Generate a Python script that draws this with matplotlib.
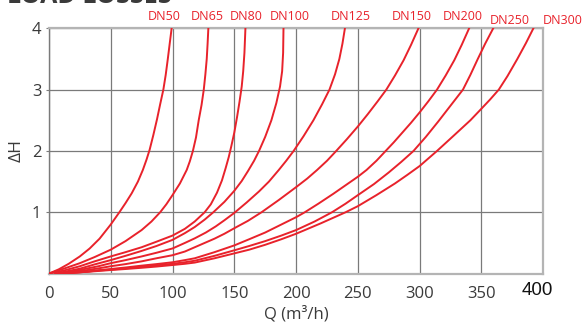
import matplotlib
matplotlib.use("Agg")
import matplotlib.pyplot as plt

# head loss curves: Q in m3/h, dH
sizes = ["DN50", "DN65", "DN80", "DN100", "DN125", "DN150", "DN200", "DN250", "DN300"]

q_dn50 = [0, 8, 16, 25, 33, 41, 50, 57, 62, 67, 72, 76, 79, 81.5, 84.5, 87.5, 90, 92.6, 94.5, 96.2, 97.8, 99.3]
h_dn50 = [0, 0.07, 0.16, 0.28, 0.41, 0.57, 0.8, 1.0, 1.15, 1.31, 1.5, 1.69, 1.86, 2.02, 2.26, 2.52, 2.76, 3.0, 3.24, 3.5, 3.76, 4.0]

q_dn65 = [0, 12, 25, 37, 50, 62, 75, 83, 90, 95, 100, 106, 111.5, 114, 116.5, 119, 121.2, 123.5, 125.3, 126.6, 127.7, 128.4, 129]
h_dn65 = [0, 0.08, 0.17, 0.27, 0.39, 0.53, 0.71, 0.85, 1.0, 1.13, 1.28, 1.47, 1.69, 1.83, 2.0, 2.22, 2.5, 2.75, 3.0, 3.25, 3.5, 3.75, 4.0]

q_dn80 = [0, 12, 25, 37, 50, 62, 75, 87, 100, 110, 118, 126, 131, 136, 140, 143, 145.5, 147.5, 150, 152.2, 154.2, 156, 157.2, 158.2, 159]
h_dn80 = [0, 0.05, 0.12, 0.2, 0.28, 0.35, 0.43, 0.52, 0.62, 0.73, 0.85, 1.0, 1.13, 1.32, 1.52, 1.72, 1.9, 2.07, 2.3, 2.55, 2.8, 3.05, 3.3, 3.6, 4.0]

q_dn100 = [5, 15, 25, 37, 50, 62, 75, 87, 100, 110, 118, 126, 133, 142, 150, 156, 161, 166, 170, 175, 180, 184, 187, 188.7, 189.5, 189.8]
h_dn100 = [0, 0.04, 0.08, 0.15, 0.22, 0.29, 0.37, 0.45, 0.55, 0.66, 0.76, 0.88, 1.0, 1.17, 1.35, 1.51, 1.67, 1.84, 2.0, 2.23, 2.5, 2.78, 3.05, 3.3, 3.6, 4.0]

q_dn125 = [8, 20, 30, 40, 50, 62, 75, 87, 100, 110, 118, 127, 135, 142, 150, 160, 170, 178, 186, 192, 198, 206, 214, 221, 227, 231.5, 235, 237.5, 239.5]
h_dn125 = [0, 0.04, 0.08, 0.12, 0.17, 0.22, 0.28, 0.34, 0.41, 0.5, 0.575, 0.67, 0.77, 0.87, 0.99, 1.16, 1.34, 1.5, 1.69, 1.84, 2.0, 2.24, 2.5, 2.76, 3.0, 3.25, 3.5, 3.75, 4.0]

q_dn150 = [9, 20, 30, 40, 50, 62, 75, 87, 100, 110, 118, 126, 134, 142, 150, 161, 172, 186, 200, 209, 217, 225, 232, 241, 250, 258, 266, 273, 280, 287, 293, 299]
h_dn150 = [0, 0.03, 0.055, 0.085, 0.12, 0.155, 0.2, 0.25, 0.3, 0.36, 0.43, 0.5, 0.57, 0.65, 0.74, 0.86, 1.0, 1.2, 1.41, 1.55, 1.69, 1.84, 1.99, 2.19, 2.4, 2.6, 2.81, 3.0, 3.23, 3.48, 3.73, 4.0]

q_dn200 = [10, 20, 30, 40, 50, 62, 75, 87, 100, 110, 118, 134, 150, 162, 175, 188, 200, 207, 218, 230, 240, 250, 257, 265, 272, 279, 286, 293, 300, 307, 314, 321, 328, 334, 340]
h_dn200 = [0, 0.015, 0.03, 0.055, 0.075, 0.1, 0.13, 0.155, 0.185, 0.22, 0.25, 0.35, 0.46, 0.56, 0.67, 0.8, 0.92, 1.0, 1.14, 1.3, 1.44, 1.58, 1.69, 1.84, 1.99, 2.14, 2.3, 2.46, 2.63, 2.81, 3.0, 3.23, 3.48, 3.73, 4.0]

q_dn250 = [10, 20, 30, 40, 50, 62, 75, 87, 100, 110, 118, 134, 150, 162, 175, 188, 200, 215, 229, 240, 250, 263, 275, 285, 295, 305, 315, 325, 335, 341, 347, 353, 359.5]
h_dn250 = [0, 0.015, 0.03, 0.05, 0.065, 0.085, 0.11, 0.135, 0.16, 0.185, 0.21, 0.29, 0.38, 0.45, 0.53, 0.62, 0.71, 0.85, 1.0, 1.14, 1.28, 1.46, 1.65, 1.82, 2.0, 2.23, 2.48, 2.74, 3.0, 3.24, 3.5, 3.75, 4.0]

q_dn300 = [10, 20, 30, 40, 50, 62, 75, 87, 100, 110, 118, 134, 150, 162, 175, 188, 200, 220, 240, 250, 265, 280, 290, 300, 314, 327, 341, 350, 357, 364, 371, 379, 386, 392]
h_dn300 = [0, 0.015, 0.028, 0.043, 0.058, 0.075, 0.095, 0.115, 0.14, 0.16, 0.18, 0.25, 0.33, 0.39, 0.47, 0.56, 0.65, 0.82, 1.0, 1.1, 1.28, 1.47, 1.61, 1.755, 2.0, 2.24, 2.5, 2.69, 2.84, 3.0, 3.22, 3.5, 3.76, 4.0]

x_ticks = [0, 50, 100, 150, 200, 250, 300, 350, 400]
y_ticks = [1, 2, 3, 4]

curves = [(q_dn50, h_dn50), (q_dn65, h_dn65), (q_dn80, h_dn80), (q_dn100, h_dn100),
          (q_dn125, h_dn125), (q_dn150, h_dn150), (q_dn200, h_dn200),
          (q_dn250, h_dn250), (q_dn300, h_dn300)]

RED = "#e8222b"
GRID = "#7a7a7a"
FRAME = "#b4b4b4"

plt.rcParams['font.family'] = ['Open Sans', 'DejaVu Sans']

fig = plt.figure(figsize=(5.85, 3.23), dpi=100)
ax = fig.add_axes([0.0836, 0.1529, 0.8451, 0.7595])

for q, h in curves:
    ax.plot(q, h, color=RED, lw=1.4, solid_joinstyle='round', zorder=3)

ax.set_xlim(0, 400)
ax.set_ylim(0, 4)
ax.set_xticks(x_ticks)
ax.set_yticks(y_ticks)
ax.set_xticklabels([str(t) for t in x_ticks[:-1]] + [""])
ax.grid(True, color=GRID, lw=0.9)
ax.set_axisbelow(True)
ax.tick_params(axis='x', length=0, pad=9, labelsize=12, labelcolor="#3a3a3a")
ax.tick_params(axis='y', length=2.5, width=0.8, color=GRID, pad=3, labelsize=12, labelcolor="#3a3a3a")
for name, sp in ax.spines.items():
    sp.set_color(FRAME)
    sp.set_linewidth(1.6)
ax.spines['left'].set_color(GRID)
ax.spines['left'].set_linewidth(1.0)

# the last x label is set in a different, darker font in the original
ax.text(395, -0.14, "400", ha='center', va='top',
        fontsize=13.5, color="#111111", family=['Liberation Sans', 'DejaVu Sans'])

ax.set_xlabel("Q (m³/h)", fontsize=12, color="#3a3a3a", labelpad=3)
ax.set_ylabel("ΔH", fontsize=12.5, color="#3a3a3a", labelpad=5)

# DN labels above the plot
label_pos = [(93, 4.19), (128.3, 4.19), (159.5, 4.19), (195, 4.19), (244.2, 4.19),
             (293.5, 4.19), (334.6, 4.19), (373.1, 4.125), (415.5, 4.125)]
for name, (lx, ly) in zip(sizes, label_pos):
    ax.text(lx, ly, name, ha='center', va='center', fontsize=9, color=RED, clip_on=False)

# title, mostly cut off by the top edge in the original
fig.text(0.012, 1 - 3 / 323, "LOAD LOSSES", ha='left', va='baseline',
         fontsize=18, fontweight='bold', color="#3a3a3a")

fig.savefig("out.png", dpi=100)
